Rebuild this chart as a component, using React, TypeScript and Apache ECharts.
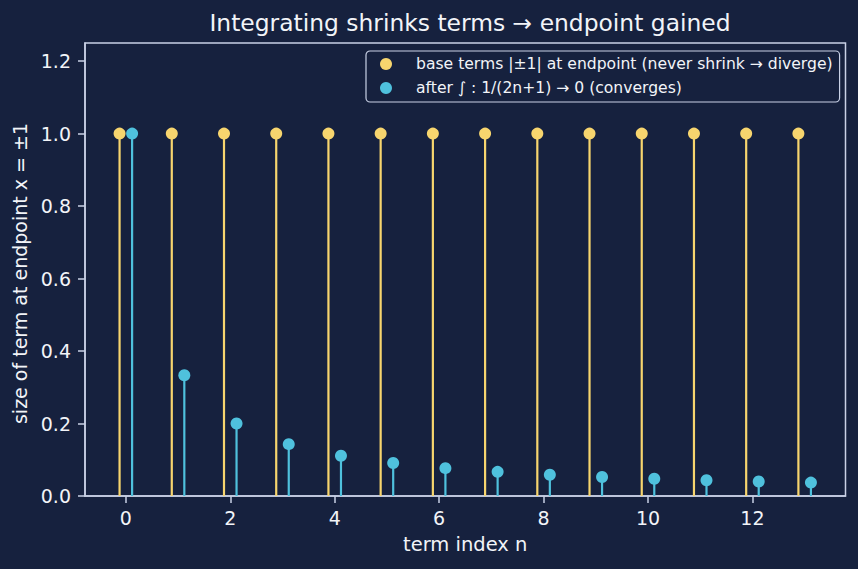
import React, { useEffect, useRef } from "react";
import * as echarts from "echarts";

// term index n = 0..13
const termIndex: number[] = [0, 1, 2, 3, 4, 5, 6, 7, 8, 9, 10, 11, 12, 13];
// |±1| at the endpoint: the base terms never shrink
const baseTerms: number[] = [1, 1, 1, 1, 1, 1, 1, 1, 1, 1, 1, 1, 1, 1];
// after integrating: 1/(2n+1)
const integratedTerms: number[] = [
  1.0, 0.333, 0.2, 0.143, 0.111, 0.0909, 0.0769, 0.0667, 0.0588, 0.0526, 0.0476, 0.0435, 0.04, 0.037,
];
const xTicks: number[] = [0, 2, 4, 6, 8, 10, 12];
const yTicks: number[] = [0, 0.2, 0.4, 0.6, 0.8, 1.0, 1.2];

const BASE_NAME = "base terms |±1| at endpoint (never shrink → diverge)";
const INT_NAME = "after ∫ : 1/(2n+1) → 0 (converges)";

const BG = "#16213e";
const SPINE = "#c9d1e6";
const TEXT = "#f2f4f8";
const YELLOW = "#f7d56e";
const BLUE = "#4fc1dd";
const FONT = "DejaVu Sans";
const SHIFT = 0.12;

function stemSeries(points: number[][], color: string) {
  return {
    type: "custom",
    silent: true,
    data: points,
    encode: { x: 0, y: 1 },
    renderItem: (_params: any, api: any) => {
      const x = api.value(0);
      const y = api.value(1);
      const p0 = api.coord([x, 0]);
      const p1 = api.coord([x, y]);
      return {
        type: "line",
        shape: { x1: p0[0], y1: p0[1], x2: p1[0], y2: p1[1] },
        style: { stroke: color, lineWidth: 2.2 },
      };
    },
  };
}

export default function App() {
  const ref = useRef<HTMLDivElement>(null);

  useEffect(() => {
    if (!ref.current) return;
    const chart = echarts.init(ref.current, undefined, { renderer: "svg" });

    const basePts = termIndex.map((n, i) => [n - SHIFT, baseTerms[i]]);
    const intPts = termIndex.map((n, i) => [n + SHIFT, integratedTerms[i]]);

    chart.setOption({
      animation: false,
      backgroundColor: BG,
      textStyle: { fontFamily: FONT },
      title: {
        text: "Integrating shrinks terms → endpoint gained",
        left: 465,
        top: 6,
        textAlign: "center",
        textStyle: { color: TEXT, fontSize: 23.4, fontWeight: "normal", fontFamily: FONT },
      },
      legend: {
        orient: "vertical",
        left: 366,
        top: 51,
        padding: [4, 7, 5, 14],
        itemGap: 6,
        itemWidth: 12,
        itemHeight: 12,
        backgroundColor: BG,
        borderColor: SPINE,
        borderWidth: 1.2,
        borderRadius: 4,
        data: [
          { name: BASE_NAME, icon: "circle" },
          { name: INT_NAME, icon: "circle" },
        ],
        textStyle: {
          color: TEXT,
          fontSize: 15.6,
          fontFamily: FONT,
          lineHeight: 18,
          padding: [0, 0, 0, 19],
        },
      },
      grid: {
        left: 85,
        right: 12.5,
        top: 43,
        bottom: 73,
        show: true,
        borderColor: SPINE,
        borderWidth: 1.5,
        backgroundColor: BG,
      },
      xAxis: {
        type: "value",
        min: -0.782,
        max: 13.782,
        name: "term index n",
        nameLocation: "middle",
        nameGap: 38,
        nameTextStyle: { color: TEXT, fontSize: 19.5, fontFamily: FONT },
        axisLine: { show: true, onZero: false, lineStyle: { color: SPINE, width: 1.5 } },
        axisTick: { show: true, length: 7, customValues: xTicks, lineStyle: { color: SPINE, width: 1.5 } },
        axisLabel: {
          customValues: xTicks,
          margin: 12,
          color: TEXT,
          fontSize: 19,
          fontFamily: FONT,
        },
        splitLine: { show: false },
      },
      yAxis: {
        type: "value",
        min: 0,
        max: 1.25,
        name: "size of term at endpoint x = ±1",
        nameLocation: "middle",
        nameGap: 54,
        nameTextStyle: { color: TEXT, fontSize: 19, fontFamily: FONT, padding: [0, 8, 0, 0] },
        axisLine: { show: true, onZero: false, lineStyle: { color: SPINE, width: 1.5 } },
        axisTick: { show: true, length: 7, customValues: yTicks, lineStyle: { color: SPINE, width: 1.5 } },
        axisLabel: {
          customValues: yTicks,
          margin: 14,
          color: TEXT,
          fontSize: 19,
          fontFamily: FONT,
          formatter: (v: number) => v.toFixed(1),
        },
        splitLine: { show: false },
      },
      series: [
        stemSeries(basePts, YELLOW),
        {
          type: "scatter",
          name: BASE_NAME,
          data: basePts,
          symbol: "circle",
          symbolSize: 12,
          itemStyle: { color: YELLOW, opacity: 1 },
        },
        stemSeries(intPts, BLUE),
        {
          type: "scatter",
          name: INT_NAME,
          data: intPts,
          symbol: "circle",
          symbolSize: 12,
          itemStyle: { color: BLUE, opacity: 1 },
        },
      ],
    });

    return () => chart.dispose();
  }, []);

  return (
    <div
      ref={ref}
      style={{ position: "fixed", left: 0, top: 0, width: 858, height: 569 }}
    />
  );
}
